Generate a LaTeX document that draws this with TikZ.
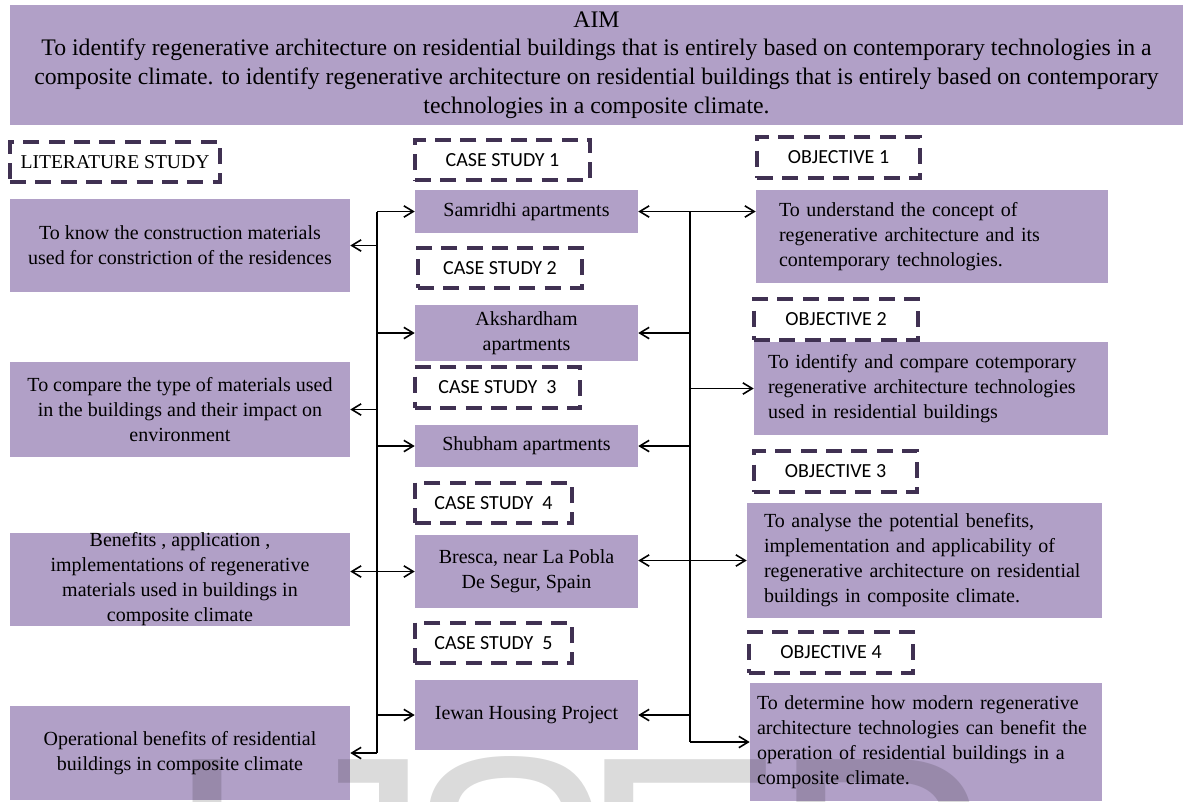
\documentclass[tikz,border=0pt]{standalone}
\usepackage{fontspec}
\setmainfont{Liberation Serif}
\newfontfamily\calibri{Carlito}
\newfontfamily\wmfont{Liberation Sans}
\usetikzlibrary{arrows.meta,calc}
\definecolor{boxpurple}{RGB}{177,160,199}
\definecolor{dashpurple}{RGB}{64,49,82}

\begin{document}
\begin{tikzpicture}[x=0.75pt, y=-0.75pt,
    >={Straight Barb[length=7pt,width=8.5pt]},
    box/.style={rectangle, fill=boxpurple, inner sep=0pt, align=center, font=\fontsize{15}{18.75}\selectfont},
    aimbox/.style={box, font=\fontsize{17.8}{21.6}\selectfont},
    litbox/.style={box, minimum width=255pt},
    casebox/.style={box, minimum width=167.25pt},
    objbox/.style={box, align=left},
    tag/.style={rectangle, draw=dashpurple, line width=3pt, dash pattern=on 12pt off 7pt, inner sep=0pt, minimum height=30.5pt, font=\calibri\fontsize{15}{18}\selectfont},
    arrow/.style={->, line width=1.2pt},
    link/.style={line width=1.2pt},
    watermark/.style={inner sep=0pt, text=black, text opacity=0.14, font=\wmfont\fontsize{232}{232}\selectfont}
]
\clip (0,0) rectangle (1188,801);

% aim
\node[aimbox, minimum width=879.75pt, minimum height=90pt] (aim) at (596.5,65) {
    AIM\\
    To identify regenerative architecture on residential buildings that is entirely based on contemporary technologies in a\\
    composite climate. to identify regenerative architecture on residential buildings that is entirely based on contemporary\\
    technologies in a composite climate.
};

% headings
\node[tag, font=\fontsize{14.7}{18}\selectfont, minimum width=157.5pt, minimum height=30pt] (littag) at (115,162) {LITERATURE STUDY};
\node[tag, minimum width=131.25pt] (cs1tag) at (502.5,160) {CASE STUDY 1};
\node[tag, minimum width=123pt] (cs2tag) at (500,268) {CASE STUDY 2};
\node[tag, minimum width=123.75pt] (cs3tag) at (497.5,387.5) {CASE STUDY~ 3};
\node[tag, minimum width=117.75pt] (cs4tag) at (493.5,503) {CASE STUDY~ 4};
\node[tag, minimum width=117.75pt] (cs5tag) at (493.5,643) {CASE STUDY~ 5};
\node[tag, minimum width=122.25pt] (obj1tag) at (838.5,157.5) {OBJECTIVE 1};
\node[tag, minimum width=123pt] (obj2tag) at (836,319.5) {OBJECTIVE 2};
\node[tag, minimum width=122.25pt] (obj3tag) at (835.5,471.5) {OBJECTIVE 3};
\node[tag, minimum width=123pt] (obj4tag) at (831,652.5) {OBJECTIVE 4};

% literature study
\node[litbox, minimum height=69.75pt] (lit1) at (180,245.5) {
    To know the construction materials\\
    used for constriction of the residences};
\node[litbox, minimum height=71.25pt] (lit2) at (180,409.5) {
    To compare the type of materials used\\
    in the buildings and their impact on\\
    environment};
\node[litbox, minimum height=69.75pt] (lit3) at (180,579.5) {
    Benefits , application ,\\
    implementations of regenerative\\
    materials used in buildings in\\
    composite climate};
\node[litbox, minimum height=70.5pt] (lit4) at (180,753) {
    Operational benefits of residential\\
    buildings in composite climate};

% case studies
\node[casebox, minimum height=32.25pt] (cs1) at (526.5,211.5) {Samridhi apartments};
\node[casebox, minimum height=42pt] (cs2) at (526.5,333) {Akshardham\\apartments};
\node[casebox, minimum height=31.5pt] (cs3) at (526.5,446) {Shubham apartments};
\node[casebox, minimum height=54.75pt] (cs4) at (526.5,571.5) {Bresca, near La Pobla\\De Segur, Spain};
\node[casebox, minimum height=52.5pt] (cs5) at (526.5,715) {Iewan Housing Project};

% objectives
\node[objbox, minimum width=264pt, minimum height=69.75pt, text width=229.5pt] (obj1) at (932,236.5) {
    To understand the concept of\\
    regenerative architecture and its\\
    contemporary technologies.};
\node[objbox, minimum width=265.5pt, minimum height=69.75pt, text width=244.5pt] (obj2) at (931,388.5) {
    To identify and compare cotemporary\\
    regenerative architecture technologies\\
    used in residential buildings};
\node[objbox, minimum width=266.25pt, minimum height=86.25pt, text width=240.75pt] (obj3) at (924.5,560.5) {
    To analyse the potential benefits,\\
    implementation and applicability of\\
    regenerative architecture on residential\\
    buildings in composite climate.};
\node[objbox, minimum width=264pt, minimum height=88.5pt, text width=253.5pt] (obj4) at (926,742) {
    To determine how modern regenerative\\
    architecture technologies can benefit the\\
    operation of residential buildings in a\\
    composite climate.};

% connectors
\coordinate (lbus) at (377,0);
\coordinate (rbus) at (690,0);

\draw[link] (lbus |- cs1.west) -- (lbus |- lit4.east);
\draw[arrow] (lbus |- cs1.west) -- (cs1.west);
\draw[arrow] (lbus |- lit1.east) -- (lit1.east);
\draw[arrow] (lbus |- cs2.west) -- (cs2.west);
\draw[arrow] (lbus |- lit2.east) -- (lit2.east);
\draw[arrow] (lbus |- cs3.west) -- (cs3.west);
\draw[arrow, <->] (lit3.east |- cs4.west) -- (cs4.west);
\draw[arrow] (lbus |- cs5.west) -- (cs5.west);
\draw[arrow] (lbus |- lit4.east) -- (lit4.east);

\draw[link] (rbus |- cs1.east) -- (rbus |- obj4.west);
\draw[arrow, <->] (cs1.east) -- (obj1.west |- cs1.east);
\draw[arrow] (rbus |- cs2.east) -- (cs2.east);
\draw[arrow] (rbus |- obj2.west) -- (obj2.west);
\draw[arrow] (rbus |- cs3.east) -- (cs3.east);
\draw[arrow, <->] (cs4.east |- obj3.west) -- (obj3.west);
\draw[arrow] (rbus |- cs5.east) -- (cs5.east);
\draw[arrow] (rbus |- obj4.west) -- (obj4.west);

% watermark, only its top shows
\node[watermark, anchor=base west] (wm) at (164,972) {I\kern20pt J\kern-20pt S\kern-24pt E\kern-10.5pt R};

\end{tikzpicture}
\end{document}
